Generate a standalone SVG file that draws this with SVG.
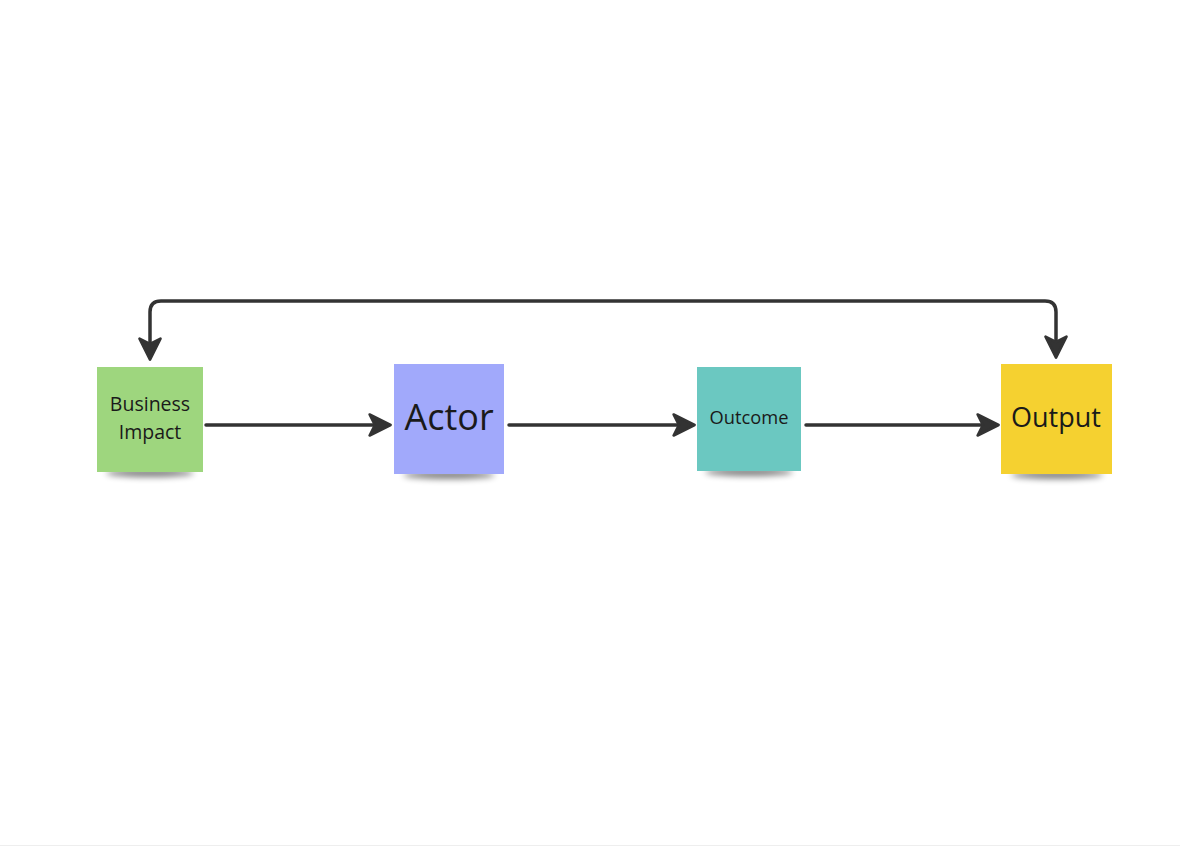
<svg xmlns="http://www.w3.org/2000/svg" width="1180" height="847" viewBox="0 0 1180 847">
<style>
.lbl{font-family:"Open Sans","Noto Sans",sans-serif;fill:#1a1a1a;text-anchor:middle}
.conn{fill:none;stroke:#333333;stroke-width:3.5;stroke-linecap:round;stroke-linejoin:round}
</style>
<defs>
<marker id="ah" viewBox="0 0 20 20" refX="16" refY="10" markerWidth="7.5" markerHeight="7.5" markerUnits="strokeWidth" orient="auto-start-reverse">
<path d="M2,2 L18,10 L2,18 L6,10 Z" fill="#333333" stroke="#333333" stroke-width="2" stroke-linejoin="round"/>
</marker>
<filter id="sh" x="-30%" y="-100%" width="160%" height="300%"><feGaussianBlur stdDeviation="3"/></filter>
</defs>
<rect width="1180" height="847" fill="#ffffff"/>
<line x1="0" y1="845.5" x2="1180" y2="845.5" stroke="#eeeeee" stroke-width="1"/>
<g id="connectors">
<path class="conn" d="M206,425 L388,425" marker-end="url(#ah)"/>
<path class="conn" d="M509,425 L692,425" marker-end="url(#ah)"/>
<path class="conn" d="M806,425 L996,425" marker-end="url(#ah)"/>
<path class="conn" d="M150,357 L150,312 Q150,301 161,301 L1045,301 Q1056,301 1056,312 L1056,355" marker-start="url(#ah)" marker-end="url(#ah)"/>
</g>
<g id="node-business-impact">
<ellipse cx="150" cy="473" rx="44" ry="4" fill="#000" opacity="0.5" filter="url(#sh)"/>
<rect x="97" y="367" width="106" height="105" fill="#9ed67e"/>
<text class="lbl" x="150" y="411" font-size="19.5">Business</text>
<text class="lbl" x="150" y="439" font-size="19.5">Impact</text>
</g>
<g id="node-actor">
<ellipse cx="449" cy="475" rx="46" ry="4" fill="#000" opacity="0.5" filter="url(#sh)"/>
<rect x="394" y="364" width="110" height="110" fill="#a1a9fb"/>
<text class="lbl" x="449" y="430" font-size="36">Actor</text>
</g>
<g id="node-outcome">
<ellipse cx="749" cy="472" rx="44" ry="4" fill="#000" opacity="0.5" filter="url(#sh)"/>
<rect x="697" y="367" width="104" height="104" fill="#6bc8c1"/>
<text class="lbl" x="749" y="424" font-size="18.3">Outcome</text>
</g>
<g id="node-output">
<ellipse cx="1057" cy="475" rx="46" ry="4" fill="#000" opacity="0.5" filter="url(#sh)"/>
<rect x="1001" y="364" width="111" height="110" fill="#f5d130"/>
<text class="lbl" x="1056" y="427" font-size="27">Output</text>
</g>
</svg>
